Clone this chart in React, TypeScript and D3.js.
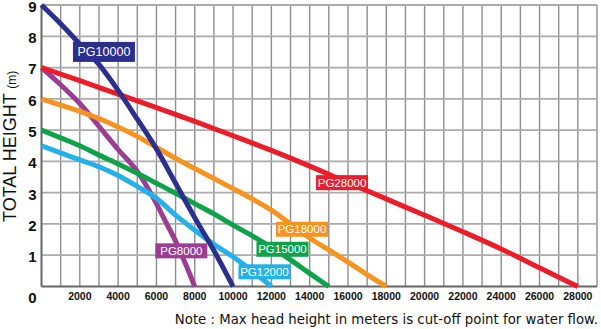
import React from "react";
import * as d3 from "d3";

// Flow (L/h) and total head (m) readings for each pump model
const pg10000Flow = [0, 1000, 2000, 3000, 4000, 5000, 6000, 7000, 8000, 9000, 10000];
const pg10000Head = [9, 8.4, 7.75, 7.1, 6.27, 5.35, 4.4, 3.3, 2.2, 1.15, 0];

const pg8000Flow = [0, 1000, 2000, 3000, 4000, 5000, 6000, 6500, 7000, 7500, 8000];
const pg8000Head = [7, 6.45, 5.85, 5.12, 4.38, 3.68, 2.65, 2.05, 1.45, 0.75, 0];

const pg28000Flow = [0, 2000, 4000, 6000, 8000, 10000, 12000, 14000, 16000, 18000, 20000, 22000, 24000, 26000, 28000];
const pg28000Head = [7, 6.58, 6.15, 5.72, 5.28, 4.82, 4.35, 3.85, 3.32, 2.8, 2.28, 1.75, 1.2, 0.6, 0];

const pg18000Flow = [0, 1000, 2000, 3000, 4000, 5000, 6000, 7000, 8000, 9000, 10000, 11000, 12000, 13000, 14000, 15000, 16000, 17000, 18000];
const pg18000Head = [6, 5.8, 5.6, 5.37, 5.1, 4.8, 4.45, 4.1, 3.77, 3.45, 3.13, 2.8, 2.44, 2.0, 1.55, 1.17, 0.78, 0.38, 0];

const pg15000Flow = [0, 1000, 2000, 3000, 4000, 5000, 6000, 7000, 8000, 9000, 10000, 11000, 12000, 13000, 14000, 15000];
const pg15000Head = [5, 4.75, 4.5, 4.2, 3.92, 3.62, 3.3, 2.98, 2.65, 2.32, 1.96, 1.62, 1.25, 0.85, 0.42, 0];

const pg12000Flow = [0, 1000, 2000, 3000, 4000, 5000, 6000, 7000, 8000, 9000, 10000, 11000, 12000];
const pg12000Head = [4.5, 4.27, 4.05, 3.83, 3.55, 3.2, 2.82, 2.28, 1.8, 1.35, 0.95, 0.5, 0];

const flowTicks = [2000, 4000, 6000, 8000, 10000, 12000, 14000, 16000, 18000, 20000, 22000, 24000, 26000, 28000];
const headTicks = [1, 2, 3, 4, 5, 6, 7, 8, 9];
const flowGrid = d3.range(1000, 29001, 1000);

type Series = {
  name: string;
  color: string;
  flow: number[];
  head: number[];
  labelAt: [number, number];
  big?: boolean;
};

// drawing order: later series sit on top
const series: Series[] = [
  { name: "PG8000", color: "#9b3d93", flow: pg8000Flow, head: pg8000Head, labelAt: [7300, 1.14] },
  { name: "PG28000", color: "#ec1c28", flow: pg28000Flow, head: pg28000Head, labelAt: [15690, 3.32] },
  { name: "PG18000", color: "#f7931e", flow: pg18000Flow, head: pg18000Head, labelAt: [13600, 1.83] },
  { name: "PG15000", color: "#0ea24b", flow: pg15000Flow, head: pg15000Head, labelAt: [12580, 1.19] },
  { name: "PG12000", color: "#22b1ea", flow: pg12000Flow, head: pg12000Head, labelAt: [11640, 0.47] },
  { name: "PG10000", color: "#2b2f8e", flow: pg10000Flow, head: pg10000Head, labelAt: [3260, 7.5], big: true },
];

const W = 601;
const H = 329;
const FONT = "'Liberation Sans', Arial, Helvetica, sans-serif";

export default function App() {
  const x = d3.scaleLinear().domain([0, 29000]).range([41.5, 597]);
  const y = d3.scaleLinear().domain([0, 9]).range([286.5, 5]);

  const line = d3
    .line<[number, number]>()
    .x((d) => x(d[0]))
    .y((d) => y(d[1]))
    .curve(d3.curveMonotoneX);

  return (
    <svg
      width={W}
      height={H}
      style={{ position: "absolute", left: 0, top: 0, background: "#fff" }}
      fontFamily={FONT}
    >
      {/* grid */}
      <g>
        {flowGrid.map((f) => (
          <line key={"v" + f} x1={x(f)} x2={x(f)} y1={y(9)} y2={y(0)} stroke="#8e8e8e" strokeWidth={1.4} />
        ))}
        {headTicks.map((h) => (
          <line key={"h" + h} x1={x(0)} x2={x(29000)} y1={y(h)} y2={y(h)} stroke="#ababab" strokeWidth={1.8} />
        ))}
      </g>

      {/* axes */}
      <line x1={x(0)} x2={x(0)} y1={y(9)} y2={y(0)} stroke="#666" strokeWidth={2} />
      <line x1={x(0)} x2={x(29000)} y1={y(0)} y2={y(0)} stroke="#666" strokeWidth={2} />

      {/* pump curves */}
      {series.map((s) => (
        <path
          key={s.name}
          d={line(s.flow.map((f, i) => [f, s.head[i]] as [number, number])) || ""}
          fill="none"
          stroke={s.color}
          strokeWidth={5}
          strokeLinejoin="round"
        />
      ))}

      {/* model labels */}
      {series.map((s) => {
        const fs = s.big ? 12.5 : 11.5;
        const w = s.big ? 62 : 52;
        const h = s.big ? 20 : 15;
        const cx = x(s.labelAt[0]);
        const cy = y(s.labelAt[1]);
        return (
          <g key={"l" + s.name}>
            <rect x={cx - w / 2} y={cy - h / 2} width={w} height={h} fill={s.color} />
            <text
              x={cx}
              y={cy}
              dy="0.36em"
              textAnchor="middle"
              fontSize={fs}
              fill="#fff"
            >
              {s.name}
            </text>
          </g>
        );
      })}

      {/* y tick labels */}
      {headTicks.map((h) => (
        <text
          key={"yt" + h}
          x={32.5}
          y={Math.max(y(h) + 1.5, 7)}
          dy="0.36em"
          textAnchor="middle"
          fontSize={15}
          fontWeight="bold"
          fill="#111"
        >
          {h}
        </text>
      ))}
      <text x={32.5} y={297.5} dy="0.36em" textAnchor="middle" fontSize={15} fontWeight="bold" fill="#111">
        0
      </text>

      {/* x tick labels */}
      {flowTicks.map((f) => (
        <text
          key={"xt" + f}
          x={x(f)}
          y={296.5}
          dy="0.36em"
          textAnchor="middle"
          fontSize={10.5}
          fontWeight="bold"
          fill="#111"
        >
          {f}
        </text>
      ))}

      {/* y axis title */}
      <text transform="translate(16,222) rotate(-90)" fontSize={18} fill="#111">
        TOTAL HEIGHT <tspan fontSize={12}>(m)</tspan>
      </text>

      {/* footnote */}
      <text
        x={598}
        y={324}
        textAnchor="end"
        fontSize={13.3}
        fontFamily="'DejaVu Sans', Verdana, sans-serif"
        fill="#111"
      >
        Note : Max head height in meters is cut-off point for water flow.
      </text>
    </svg>
  );
}
